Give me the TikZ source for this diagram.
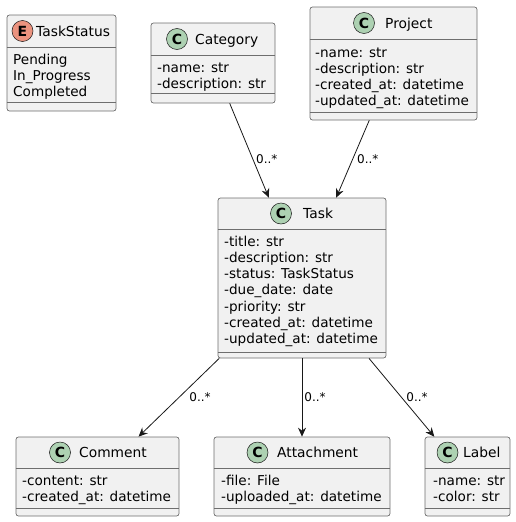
\documentclass[tikz,border=0pt]{standalone}
\usepackage{fontspec}
\setmainfont{DejaVu Sans}
\usetikzlibrary{arrows.meta, positioning}

\definecolor{boxfill}{HTML}{F1F1F1}
\definecolor{boxline}{HTML}{6E6E6E}
\definecolor{linecol}{HTML}{181818}
\definecolor{classspot}{HTML}{ADD1B2}
\definecolor{enumspot}{HTML}{EB937F}

\begin{document}
\begin{tikzpicture}[
    x=1pt, y=-1pt,
    >={Stealth[length=9pt, width=8pt, inset=3pt]},
    classbox/.style={draw=boxline, fill=boxfill, line width=0.7pt, rounded corners=2.5pt, inner sep=0pt},
    spot/.style={circle, draw=linecol, line width=0.5pt, minimum size=21pt, inner sep=0pt,
                 font=\fontsize{14}{14}\selectfont\bfseries},
    classname/.style={anchor=base west, inner sep=0pt, font=\fontsize{13.8}{16}\selectfont},
    member/.style={anchor=base west, inner sep=0pt, font=\fontsize{13.6}{16}\selectfont},
    divider/.style={draw=boxline, line width=0.7pt},
    assoc/.style={->, draw=linecol, line width=0.8pt},
    mult/.style={anchor=west, inner sep=1pt, font=\fontsize{12}{14}\selectfont},
]
    \useasboundingbox (0,0) rectangle (515,522);

    % enum
    \node[classbox, minimum width=109pt, minimum height=96pt] (taskstatus) at (61.5,63) {};
    \node[spot, fill=enumspot] (taskstatus-spot) at (22.5,31) {E};
    \node[classname] (taskstatus-name) at (36,36) {TaskStatus};
    \draw[divider] (taskstatus.west |- 0,47) -- (taskstatus.east |- 0,47);
    \draw[divider] (taskstatus.west |- 0,102) -- (taskstatus.east |- 0,102);
    \foreach \m [count=\i from 0] in {Pending, In\_Progress, Completed}
        \node[member] (taskstatus-\i) at ({13},{64+16.3*\i}) {\m};

    % classes, top row
    \node[classbox, minimum width=124pt, minimum height=80pt] (category) at (213,63) {};
    \node[spot, fill=classspot] (category-spot) at (177,39) {C};
    \node[classname] (category-name) at (195,44) {Category};
    \draw[divider] (category.west |- 0,55) -- (category.east |- 0,55);
    \draw[divider] (category.west |- 0,93) -- (category.east |- 0,93);
    \foreach \m [count=\i from 0] in {-name: str, -description: str}
        \node[member] (category-\i) at ({157},{72+16.3*\i}) {\m};

    \node[classbox, minimum width=167pt, minimum height=113pt] (project) at (393.5,63.5) {};
    \node[spot, fill=classspot] (project-spot) at (364,23) {C};
    \node[classname] (project-name) at (385,28) {Project};
    \draw[divider] (project.west |- 0,39) -- (project.east |- 0,39);
    \draw[divider] (project.west |- 0,112) -- (project.east |- 0,112);
    \foreach \m [count=\i from 0] in {-name: str, -description: str,
                                      -created\_at: datetime, -updated\_at: datetime}
        \node[member] (project-\i) at ({315},{57+16.3*\i}) {\m};

    % central class
    \node[classbox, minimum width=168pt, minimum height=160pt] (task) at (302,278) {};
    \node[spot, fill=classspot] (task-spot) at (281,213.5) {C};
    \node[classname] (task-name) at (303,218.5) {Task};
    \draw[divider] (task.west |- 0,229) -- (task.east |- 0,229);
    \draw[divider] (task.west |- 0,352) -- (task.east |- 0,352);
    \foreach \m [count=\i from 0] in {-title: str, -description: str, -status: TaskStatus,
                                      -due\_date: date, -priority: str,
                                      -created\_at: datetime, -updated\_at: datetime}
        \node[member] (task-\i) at ({224},{246+16.3*\i}) {\m};

    % classes, bottom row
    \node[classbox, minimum width=163pt, minimum height=79pt] (comment) at (97.5,476.5) {};
    \node[spot, fill=classspot] (comment-spot) at (60,452.5) {C};
    \node[classname] (comment-name) at (79,457.5) {Comment};
    \draw[divider] (comment.west |- 0,468) -- (comment.east |- 0,468);
    \draw[divider] (comment.west |- 0,508) -- (comment.east |- 0,508);
    \foreach \m [count=\i from 0] in {-content: str, -created\_at: datetime}
        \node[member] (comment-\i) at ({22},{485+16.3*\i}) {\m};

    \node[classbox, minimum width=176pt, minimum height=79pt] (attachment) at (302,476.5) {};
    \node[spot, fill=classspot] (attachment-spot) at (257.5,452.5) {C};
    \node[classname] (attachment-name) at (277,457.5) {Attachment};
    \draw[divider] (attachment.west |- 0,468) -- (attachment.east |- 0,468);
    \draw[divider] (attachment.west |- 0,508) -- (attachment.east |- 0,508);
    \foreach \m [count=\i from 0] in {-file: File, -uploaded\_at: datetime}
        \node[member] (attachment-\i) at ({221},{485+16.3*\i}) {\m};

    \node[classbox, minimum width=85pt, minimum height=79pt] (labelbox) at (467.5,476.5) {};
    \node[spot, fill=classspot] (labelbox-spot) at (447.5,452.5) {C};
    \node[classname] (labelbox-name) at (463,457.5) {Label};
    \draw[divider] (labelbox.west |- 0,468) -- (labelbox.east |- 0,468);
    \draw[divider] (labelbox.west |- 0,508) -- (labelbox.east |- 0,508);
    \foreach \m [count=\i from 0] in {-name: str, -color: str}
        \node[member] (labelbox-\i) at ({433},{485+16.3*\i}) {\m};

    % associations
    \draw[assoc] (category) -- node[mult, pos=0.59, xshift=2pt] (category-mult) {0..*} (task);
    \draw[assoc] (project) -- node[mult, pos=0.5, xshift=3pt] (project-mult) {0..*} (task);
    \draw[assoc] (task) -- node[mult, pos=0.494, xshift=8.6pt] (comment-mult) {0..*} (comment);
    \draw[assoc] (task) -- node[mult, pos=0.494, xshift=1pt] (attachment-mult) {0..*} (attachment);
    \draw[assoc] (task) -- node[mult, pos=0.494, xshift=3.8pt] (labelbox-mult) {0..*} (labelbox);
\end{tikzpicture}
\end{document}
